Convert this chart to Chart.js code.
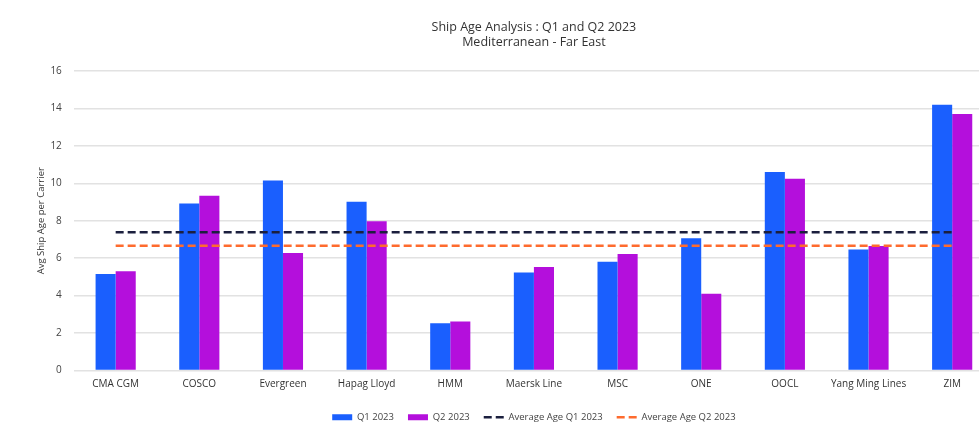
<!DOCTYPE html>
<html lang="en">
<head>
<title>Ship Age Analysis</title>
<meta charset="UTF-8">
<script src="https://cdn.jsdelivr.net/npm/chart.js@4/dist/chart.umd.min.js"></script>
<style>
html,body{margin:0;padding:0;background:#fff;overflow:hidden}
#wrap{width:1000px;height:432px;position:relative}
</style>
</head>
<body>
<div id="wrap"><canvas id="shipChart"></canvas></div>
<script>
// carriers on the x axis
var carriers = ["CMA CGM", "COSCO", "Evergreen", "Hapag Lloyd", "HMM", "Maersk Line", "MSC", "ONE", "OOCL", "Yang Ming Lines", "ZIM"];
// avg ship age per carrier
var q1Ages = [5.15, 8.92, 10.15, 9.02, 2.53, 5.24, 5.81, 7.06, 10.61, 6.46, 14.2];
var q2Ages = [5.3, 9.33, 6.28, 7.97, 2.62, 5.53, 6.22, 4.1, 10.24, 6.65, 13.7];
// average reference lines
var avgQ1 = [7.38, 7.38, 7.38, 7.38, 7.38, 7.38, 7.38, 7.38, 7.38, 7.38, 7.38];
var avgQ2 = [6.67, 6.67, 6.67, 6.67, 6.67, 6.67, 6.67, 6.67, 6.67, 6.67, 6.67];
var yTicks = [0, 2, 4, 6, 8, 10, 12, 14, 16];

Chart.defaults.font.family = "'Open Sans', sans-serif";

// legend items: keep the dash of the average lines
function legendLabels(chart) {
  var items = Chart.defaults.plugins.legend.labels.generateLabels(chart);
  items.forEach(function(it) {
    var ds = chart.data.datasets[it.datasetIndex];
    if (ds.borderDash) {
      it.lineDash = ds.borderDash;
      it.lineWidth = ds.borderWidth;
      it.strokeStyle = ds.borderColor;
    }
  });
  return items;
}

new Chart("shipChart", {
  type: "bar",
  data: {
    labels: carriers,
    datasets: [
      { label: "Q1 2023", data: q1Ages, backgroundColor: "#1a5ffe", borderWidth: 0, pointStyle: "rect", order: 2 },
      { label: "Q2 2023", data: q2Ages, backgroundColor: "#b40fdc", borderWidth: 0, pointStyle: "rect", order: 2 },
      { type: "line", label: "Average Age Q1 2023", data: avgQ1, borderColor: "#1b1f3e", backgroundColor: "#1b1f3e",
        borderWidth: 2.5, borderDash: [8, 4], pointRadius: 0, pointStyle: "line", order: 1 },
      { type: "line", label: "Average Age Q2 2023", data: avgQ2, borderColor: "#fe6b2e", backgroundColor: "#fe6b2e",
        borderWidth: 2.5, borderDash: [8, 4], pointRadius: 0, pointStyle: "line", order: 1 }
    ]
  },
  options: {
    responsive: true,
    maintainAspectRatio: false,
    animation: false,
    layout: { padding: { left: 36, right: 6, top: 0, bottom: 0 } },
    datasets: { bar: { categoryPercentage: 0.48, barPercentage: 1.0 } },
    plugins: {
      title: {
        display: true,
        fullSize: false,
        text: ["Ship Age Analysis : Q1 and Q2 2023", "Mediterranean - Far East"],
        color: "#333",
        font: { size: 12.5, weight: "normal" },
        lineHeight: 1.4,
        padding: { top: 20, bottom: 21 }
      },
      legend: {
        position: "bottom",
        fullSize: false,
        labels: {
          usePointStyle: true,
          pointStyleWidth: 20,
          boxHeight: 6,
          padding: 14,
          color: "#444",
          font: { size: 9.5 },
          generateLabels: legendLabels,
          sort: function(a, b) { return a.datasetIndex - b.datasetIndex; }
        }
      },
      tooltip: { enabled: false }
    },
    scales: {
      x: {
        grid: { display: false, drawTicks: false },
        border: { display: false },
        ticks: { color: "#333", font: { size: 10 }, padding: 8, maxRotation: 0 }
      },
      y: {
        min: 0,
        max: 16,
        afterBuildTicks: function(axis) { axis.ticks = yTicks.map(function(v) { return { value: v }; }); },
        grid: { color: "#e2e2e2", lineWidth: 1.5, drawTicks: true, tickLength: 9, tickColor: "rgba(0,0,0,0)" },
        border: { display: false },
        ticks: { color: "#444", font: { size: 10 }, padding: 3 },
        title: { display: true, text: "Avg Ship Age per Carrier", color: "#333", font: { size: 9.5 }, padding: { top: 0, bottom: 0 } }
      }
    }
  }
});
</script>
</body>
</html>
